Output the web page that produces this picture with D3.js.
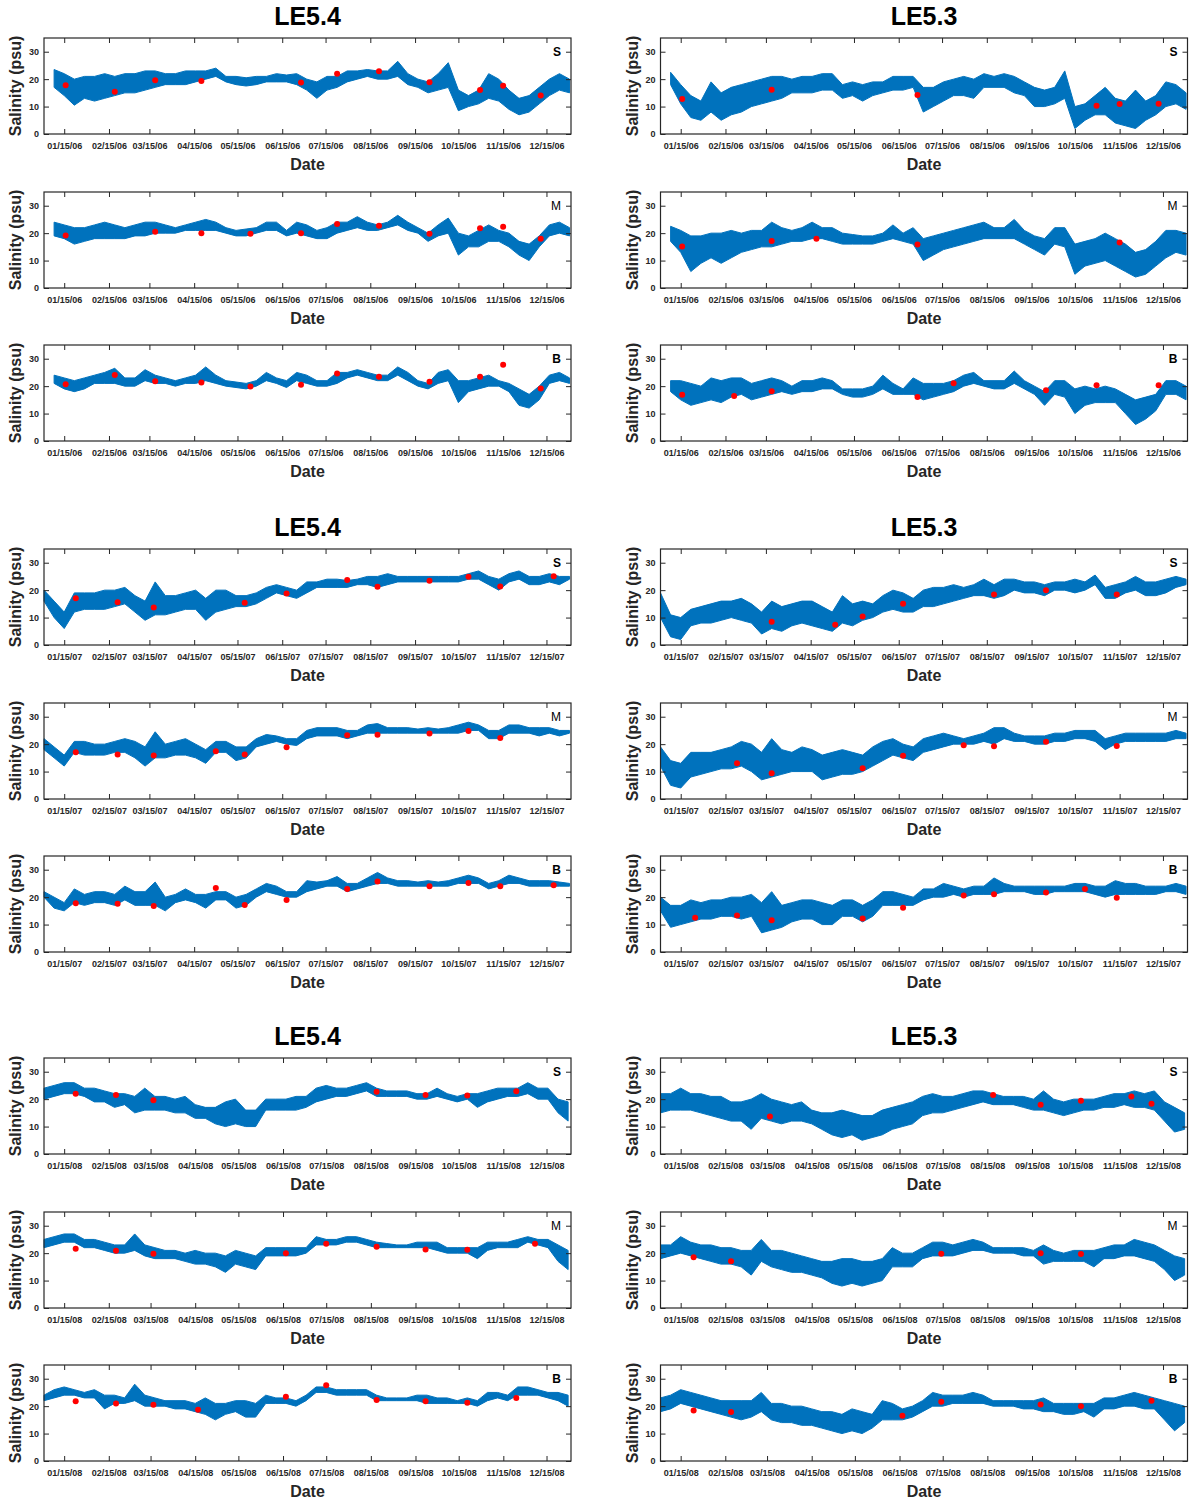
<!DOCTYPE html>
<html>
<head>
<meta charset="utf-8">
<script src="https://cdn.jsdelivr.net/npm/d3@7"></script>
<style>
  body { margin: 0; background: #fff; }
  text { font-family: "Liberation Sans", Arial, Helvetica, sans-serif; }
</style>
</head>
<body>
<script>
// -----------------------------------------------------------------------
// Data: weekly low / high envelope of the continuous salinity record
// (index k = day 7*k of the year), plus discrete grab samples (red dots)
// -----------------------------------------------------------------------

const YEARS = [2006, 2007, 2008];
const STATIONS = ["LE5.4", "LE5.3"];
const DEPTHS = ["S", "M", "B"];
const Y_TICKS = [0, 10, 20, 30];

// ---- 2006, LE5.4
const le54_06_S_lo = [null,17,14,10.5,13,12,13,14,15,15,16,17,18,18,18,19,20,21,19,18,17.5,18,19,19,19,18,16,13,16,17,19,20,21,20,20,21,18,17,15,16,17,8.5,10,11,13,12,9,7,8,11,14,16,15];
const le54_06_S_hi = [null,23.5,22,20,21,21,22,21,22,22,23,23,22,22,23,23,23,24,21,21,20.5,21,21,22,21.5,22,20,19,21,21,23,23,23.5,23,23,26.5,22,20,19,22,26,16,14,16,22,20,16,13,14,17,20,22,20];
const le54_06_M_lo = [null,19,18,16,17,18,18,18,18,19,19,20,20,20,21,21,21,21,20,19,19,20,21,21,19,20,19,18,18,20,21,22,21,21,22,23,21,20,17,19,20,12,15,15,17,17,15,12,10,15,19,20,19];
const le54_06_M_hi = [null,24,23,22,22,23,24,23,22,23,24,24,23,22,23,24,25,24,22,21,21.5,22,24,24,21,24,23,21,22,24,24,26,24,23,24,26.5,24,22,20,23,25.5,20,19,21,23,21,20,17,16,19,23,24,22];
const le54_06_B_lo = [null,21,19,18,19,21,21,21,20,20,22,21,21,20,21,21,22,21,20,19.5,19,20,22,21,19.5,22,21,20,20,21,23,24,23,22,22,24,22,20,19,21,22,14,18,19,20,20,18,13,12,15,21,22,21];
const le54_06_B_hi = [null,24,23,22,23,24,25,26.5,23,23,26,24,23,22,23,24,27,24,22,21.5,21,22,25,23,22,25,24,22,22,25,25,26,25,24,24,27,25,22,21,25,26,22,22,23,24,22,21,19,17,20,24,25,23];
const le54_06_dates = ["2006-01-16","2006-02-19","2006-03-19","2006-04-20","2006-05-24","2006-06-28","2006-07-23","2006-08-21","2006-09-25","2006-10-30","2006-11-15","2006-12-11"];
const le54_06_S_obs = [17.8,15.4,19.6,19.3,null,18.8,22,22.9,18.9,16,17.6,14];
const le54_06_M_obs = [19.1,null,20.5,20,19.8,20,23.3,22.7,19.8,21.8,22.3,18];
const le54_06_B_obs = [20.7,24.1,21.8,21.3,19.9,20.5,24.6,23.4,21.6,23.4,27.8,19.1];

// ---- 2006, LE5.3
const le53_06_S_lo = [null,18,11,6,5,8,5,7,8,10,11,12,13,15,15,15,16,16,13,14,12,14,15,16,16,17,8,10,12,14,14,13,17,17,17,15,14,10,10,11,13,2,5,7,7,4,3,2,5,7,10,11,9];
const le53_06_S_hi = [null,22.5,18,14,12,19,15,17,18,19,20,21,21,20,21,21,22,22,18,19,18,19,19,21,21,21,17,17,19,20,21,20,22,21,22,21,19,17,16,17,23,10,11,14,17,13,12,16,12,14,19,18,15];
const le53_06_M_lo = [null,17,13,6,9,11,9,11,13,14,15,15,16,17,17,18,18,17,16,16,16,16,17,18,17,16,10,12,14,15,16,17,18,18,18,18,16,14,12,16,15,5,8,9,10,8,6,4,5,8,11,13,12];
const le53_06_M_hi = [null,22.5,21,19,19,20,20,21,20,21,21,24,22,21,22,24,22,22,20,19.5,19,19,20,23,20,22,18,19,20,21,22,23,24,22,22,25,21,19,18,22,22,16,17,18,20,18,16,13,14,17,21,21,20];
const le53_06_B_lo = [null,18,15,13,14,15,14,16,17,15,16,17,18,17,18,18,19,19,17,16,16,17,19,17,17,17,15,16,17,18,20,21,20,19,19,21,19,17,13,17,16,10,13,14,14,14,10,6,8,11,17,17,15];
const le53_06_B_hi = [null,22,22,21,20,23,22,23,23,21,22,23,22,20,22,22,23,22,19,19,19,20,24,21,19,23,21,21,21,22,24,25,22,22,22,25.5,22,20,18,22,22,19,20,19,20,19,17,15,16,17,22,22,20];
const le53_06_dates = ["2006-01-16","2006-02-21","2006-03-19","2006-04-19","2006-05-24","2006-06-28","2006-07-23","2006-09-25","2006-10-30","2006-11-15","2006-12-12"];
const le53_06_S_obs = [12.8,null,16.1,null,null,14.2,null,null,10.3,10.9,11];
const le53_06_M_obs = [15.1,null,17.1,18,null,15.9,null,null,null,16.6,null];
const le53_06_B_obs = [16.9,16.4,18.1,null,null,16,21.1,18.5,20.3,null,20.3];

// ---- 2007, LE5.4
const le54_07_S_lo = [16,10,6,12,13,13,13,14,15,12,9,11,11,12,13,13,9,12,13,14,14,15,17,19,18,17,19,21,21,21,21,22,22,21,22,23,23,23,23,23,23,23,24,24,22,20,23,24,22,22,23,22,24];
const le54_07_S_hi = [20,16,12,19,19,19,20,20,21,18,16,23,18,18,19,20,17,20,20,18,18,19,21,22,21,20,23,23,24,24,23.5,24,25,25,26,25,25,25,25,25,25,25,26,27,25,24,26,27,25,25,26,25,25];
const le54_07_M_lo = [18,15,12,17,16,16,16,17,17,15,12,15,15,16,16,15,13,17,17,14,15,19,20,21,20,19.5,22,23,23,23,22,23,24,24,24,24,24,24,24,24,24,24,25,25,22,22,24,24,24,23,24,23,24];
const le54_07_M_hi = [22,19,16,21,21,20,20,21,22,21,19,24.5,20,21,22,20,18,21,21,19,19,22,23.5,23,22,22,25,26,26,26,25,25,27,27.5,26,26,26,25.5,26,25.5,26,27,28,27,25,25,27,27,26,26,26,25,25];
const le54_07_B_lo = [20,16,15,18,17,18,18,17,19,17,17,17,15,18,19,18,16,19,19,16,17,20,22,21,20,20,22,23,24,24,22,23,24,25,25,24,24,24,24,24,24,25,25,25,23,24,25,25,24,24,24,24,24];
const le54_07_B_hi = [22,20,18,23,21,22,22,21,24,22,22,25.5,20,21,23,21,21,22,22,20,21,23,25,24,22,22,26,25.5,26,27.5,25,25,27,29,27,26,26,25.5,26,25.5,26,27,28,27,25,26,28,27,26,26,26,25.5,25];
const le54_07_dates = ["2007-01-23","2007-02-21","2007-03-18","2007-04-30","2007-05-20","2007-06-18","2007-07-30","2007-08-20","2007-09-25","2007-10-22","2007-11-13","2007-12-20"];
const le54_07_S_obs = [17,15.6,13.7,null,15.4,18.8,23.7,21.2,23.4,24.9,21.3,25.1];
const le54_07_M_obs = [17,16.2,15.9,17.4,16.2,18.9,23.2,23.4,23.9,24.8,22.2,null];
const le54_07_B_obs = [17.8,17.6,16.8,23.3,17.1,19,23,25.7,24,25.2,24,24.3];

// ---- 2007, LE5.3
const le53_07_S_lo = [10,3,2,7,8,8,9,10,9,8,4,6,5,7,8,7,6,5,8,7,9,10,12,13,12,12,14,14,15,16,17,18,18,17,18,20,19,19,18,20,20,19,20,22,17,17,19,20,18,18,19,21,22];
const le53_07_S_hi = [19,11,10,13,14,15,16,16,17,15,12,16,14,15,16,16,14,12,18,15,16,15,18,20,19,17,20,21,21,22,21,22,24,22,24,24,23,23,22,23,23,24,23,25.5,21,22,23,25,23,23,24,25,24];
const le53_07_M_lo = [12,5,4,8,9,10,11,11,12,10,7,8,9,10,10,10,7,8,9,9,10,12,14,16,15,14,17,18,19,20,20,20,21,20,22,21,21,20,20,21,21,22,22,21,18,20,21,21,21,21,21,22,22];
const le53_07_M_hi = [19,14,13,17,17,17,18,19,21,20,17,22,18,17,19,18,16,17,18,17,16,19,21,22,20,19,22,23,24,23,22,23,24,26,26,24,23,23,23,24,24,25,25,25,22,23,24,24,24,24,24,25,24];
const le53_07_B_lo = [15,9,10,11,12,12,13,13,12,13,7,8,9,11,12,12,10,10,13,13,11,13,17,17,17,17,19,20,20,21,20,21,21,21,22,22,22,21,21,22,22,22,22,21,20,21,21,21,21,21,22,22,21];
const le53_07_B_hi = [20,17,17,19,18,19,19,20,20,21,18,22,17,18,19,19,18,17,19,19,17,19,22,22,21,20,23,23,25,24,23,24,24,27,25,24,24,24,24,24,24,25,25,24,24,26,25,25,24,24,24,25,24];
const le53_07_dates = ["2007-01-25","2007-02-23","2007-03-19","2007-05-02","2007-05-21","2007-06-18","2007-07-30","2007-08-20","2007-09-25","2007-10-22","2007-11-13"];
const le53_07_S_obs = [null,null,8.5,7.4,10.4,15,null,18.4,20,null,18.4];
const le53_07_M_obs = [null,13,9.4,null,11.2,15.8,19.6,19.2,20.9,null,19.3];
const le53_07_B_obs = [12.5,13.3,11.6,null,12.2,16.1,20.6,21.1,21.7,23,19.8];

// ---- 2008, LE5.4
const le54_08_S_lo = [20,21,22,22,21,19,19,17,18,15,16,16,16,15,15,13,13,11,10,11,10,10,16,16,16,16,17,19,20,21,21,22,23,21,21,21,21,20,20,21,20,19,20,17,19,20,21,21,22,20,20,15,12];
const le54_08_S_hi = [24,25,26,26,24,24,23,22,22,21,24,21,21,20,21,18,17,17,19,20,16,16,20,20,20,21,21,24,25,24,24,25,26,24,23,23,23,22,22,24,22,21,22,22,23,24,24,24,26,24,24,20,19];
const le54_08_M_lo = [22,23,24,24,22,22,21,20,20,21,19,18,18,18,17,16,16,15,13,16,15,14,19,19,19,19,20,23,23,23,24,24,23,22,22,22,22,22,22,21,20,20,20,18,21,22,22,22,24,23,22,17,14];
const le54_08_M_hi = [25,26,27,27,25,25,24,23,23,27,23,22,21,21,20,21,20,20,19,21,20,19,22,22,22,22,22,26,25,25,26,26,25,24,23.5,23,23,24,24,24,22,22,22,22,24,24,24,25,26,25,25,23,21];
const le54_08_B_lo = [22,23,24,24,23,23,19,21,21,22,20,20,20,19,19,18,17,15,17,18,16,16,21,21,21,20,22,25,25,24,24,24,24,22,22,22,22,22,21,21,21,21,21,20,22,23,22,24,24,24,23,22,20];
const le54_08_B_hi = [24,26,27,26,25,26,24,24,23,28,24,23,22,22,22,21,23,21,21,22,22,21,24,23,23,22,24,27,27,26,26,26,26,24,23,23,23,24,24,23,23,22,23,22,25,25,24,27,27,26,25,25,24];
const le54_08_dates = ["2008-01-23","2008-02-20","2008-03-17","2008-04-17","2008-06-17","2008-07-15","2008-08-19","2008-09-22","2008-10-21","2008-11-24","2008-12-07"];
const le54_08_S_obs = [22,21.5,19.6,null,null,null,22.7,21.5,21.3,22.9,null];
const le54_08_M_obs = [21.6,20.9,19.8,null,20,23.4,22.3,21.3,21.2,null,23.4];
const le54_08_B_obs = [21.8,21,20.5,18.7,23.4,27.6,22.2,21.8,21.2,23,null];

// ---- 2008, LE5.3
const le53_08_S_lo = [15,16,16,16,15,14,13,12,12,9,13,12,11,12,12,11,9,7,6,7,5,6,7,9,10,11,14,15,15,16,17,18,19,18,18,18,17,16,16,15,14,15,16,16,17,17,18,17,17,16,12,8,9];
const le53_08_S_hi = [22,22,24,22,22,21,21,19,19,20,22,20,19,18,19,16,15,15,16,15,14,14,16,17,18,19,21,22,21,21,22,23,23,22,21,21,21,20,23,20,19,20,20,20,21,22,22,23,22,23,19,17,15];
const le53_08_M_lo = [18,19,20,19,18,17,16,16,15,12,17,15,14,13,13,12,11,9,8,9,8,9,10,15,15,15,18,19,19,19,20,21,21,20,20,20,19,19,16,17,17,17,17,15,18,18,19,19,18,17,14,10,12];
const le53_08_M_hi = [23,23,26,24,23,23,22,22,21,21,25,21,21,20,19,18,17,17,18,18,17,17,18,22,20,20,22,24,24,23,24,25,24,22,22,22,22,21,23,21,20,21,21,21,22,23,23,25,24,23,21,19,18];
const le53_08_B_lo = [18,19,21,20,19,18,17,16,15,16,18,15,14,14,13,13,12,11,10,11,10,12,15,15,15,16,18,20,20,21,21,21,21,20,20,20,19,19,18,18,17,17,18,16,19,19,20,20,19,19,15,11,14];
const le53_08_B_hi = [23,24,26,25,24,23,22,22,22,22,25,21,21,20,20,19,18,18,17,19,18,17,22,21,19,20,22,25,24,24,24,25,24,22,22,22,22,22,23,21,21,21,21,21,23,23,24,25,24,23,22,21,20];
const le53_08_dates = ["2008-01-24","2008-02-19","2008-03-17","2008-06-17","2008-07-14","2008-08-19","2008-09-21","2008-10-19","2008-11-23","2008-12-07"];
const le53_08_S_obs = [null,null,13.7,null,null,21.5,18,19.4,21,18.3];
const le53_08_M_obs = [18.5,17,null,null,19.8,null,20,19.7,null,null];
const le53_08_B_obs = [18.4,17.9,null,16.5,21.6,null,20.6,20,null,22];

// lookup tables built from the arrays above
const series = {
  "2006|LE5.4|S": [le54_06_S_lo, le54_06_S_hi, le54_06_S_obs],
  "2006|LE5.4|M": [le54_06_M_lo, le54_06_M_hi, le54_06_M_obs],
  "2006|LE5.4|B": [le54_06_B_lo, le54_06_B_hi, le54_06_B_obs],
  "2006|LE5.3|S": [le53_06_S_lo, le53_06_S_hi, le53_06_S_obs],
  "2006|LE5.3|M": [le53_06_M_lo, le53_06_M_hi, le53_06_M_obs],
  "2006|LE5.3|B": [le53_06_B_lo, le53_06_B_hi, le53_06_B_obs],
  "2007|LE5.4|S": [le54_07_S_lo, le54_07_S_hi, le54_07_S_obs],
  "2007|LE5.4|M": [le54_07_M_lo, le54_07_M_hi, le54_07_M_obs],
  "2007|LE5.4|B": [le54_07_B_lo, le54_07_B_hi, le54_07_B_obs],
  "2007|LE5.3|S": [le53_07_S_lo, le53_07_S_hi, le53_07_S_obs],
  "2007|LE5.3|M": [le53_07_M_lo, le53_07_M_hi, le53_07_M_obs],
  "2007|LE5.3|B": [le53_07_B_lo, le53_07_B_hi, le53_07_B_obs],
  "2008|LE5.4|S": [le54_08_S_lo, le54_08_S_hi, le54_08_S_obs],
  "2008|LE5.4|M": [le54_08_M_lo, le54_08_M_hi, le54_08_M_obs],
  "2008|LE5.4|B": [le54_08_B_lo, le54_08_B_hi, le54_08_B_obs],
  "2008|LE5.3|S": [le53_08_S_lo, le53_08_S_hi, le53_08_S_obs],
  "2008|LE5.3|M": [le53_08_M_lo, le53_08_M_hi, le53_08_M_obs],
  "2008|LE5.3|B": [le53_08_B_lo, le53_08_B_hi, le53_08_B_obs],
};
const sampleDates = {
  "2006|LE5.4": le54_06_dates, "2006|LE5.3": le53_06_dates,
  "2007|LE5.4": le54_07_dates, "2007|LE5.3": le53_07_dates,
  "2008|LE5.4": le54_08_dates, "2008|LE5.3": le53_08_dates,
};

// -----------------------------------------------------------------------
// Layout
// -----------------------------------------------------------------------

const WIDTH = 1193;
const HEIGHT = 1500;
const COL_X = [44, 660.5];
const PLOT_W = 527;
const PLOT_H = 96;
const GROUP_Y = [0, 511, 1020];
const ROW_TOP = [38, 192, 345];
const TICK_LEN = 5;

const AXIS_COLOR = "#262626";
const LINE_COLOR = "#0072BD";
const DOT_COLOR = "#FF0000";

const parseDate = d3.timeParse("%Y-%m-%d");
const fmtTick = d3.timeFormat("%m/%d/%y");

const svg = d3.select("body")
  .append("svg")
  .attr("width", WIDTH)
  .attr("height", HEIGHT);

function styleAxis(g) {
  g.select(".domain").remove();
  g.selectAll(".tick line").attr("stroke", AXIS_COLOR);
  g.selectAll(".tick text")
    .attr("fill", AXIS_COLOR)
    .attr("font-size", 9)
    .attr("font-weight", "bold")
    .attr("font-family", "'Liberation Sans', Arial, sans-serif");
}

// -----------------------------------------------------------------------
// Drawing
// -----------------------------------------------------------------------

YEARS.forEach((year, gi) => {
  STATIONS.forEach((station, ci) => {
    const x0 = COL_X[ci];
    const start = new Date(year, 0, 1);

    const xScale = d3.scaleTime()
      .domain([start, new Date(year + 1, 0, 1)])
      .range([x0, x0 + PLOT_W]);

    const xTicks = d3.timeMonth.range(start, new Date(year + 1, 0, 1))
      .map(d => d3.timeDay.offset(d, 14));

    // station title
    svg.append("text")
      .attr("x", x0 + PLOT_W / 2)
      .attr("y", GROUP_Y[gi] + 25)
      .attr("text-anchor", "middle")
      .attr("font-size", 25)
      .attr("font-weight", "bold")
      .attr("fill", "#000")
      .text(station);

    const dates = sampleDates[year + "|" + station].map(parseDate);

    DEPTHS.forEach((depth, ri) => {
      const top = GROUP_Y[gi] + ROW_TOP[ri];
      const bottom = top + PLOT_H;
      const [lo, hi, obs] = series[year + "|" + station + "|" + depth];

      const yScale = d3.scaleLinear().domain([0, 35]).range([bottom, top]);

      const weekly = lo.map((v, k) => ({
        date: d3.timeDay.offset(start, 7 * k),
        lo: v,
        hi: hi[k]
      }));

      const panel = svg.append("g").attr("class", "panel");

      // continuous record as a filled envelope
      const area = d3.area()
        .defined(d => d.lo != null && d.hi != null)
        .x(d => xScale(d.date))
        .y0(d => yScale(d.lo))
        .y1(d => yScale(d.hi));

      panel.append("path")
        .datum(weekly)
        .attr("d", area)
        .attr("fill", LINE_COLOR)
        .attr("stroke", LINE_COLOR)
        .attr("stroke-width", 1)
        .attr("stroke-linejoin", "round");

      // grab samples
      const samples = dates.map((d, i) => ({ date: d, value: obs[i] }))
        .filter(d => d.value != null);

      panel.append("g")
        .selectAll("circle")
        .data(samples)
        .join("circle")
        .attr("cx", d => xScale(d.date))
        .attr("cy", d => yScale(d.value))
        .attr("r", 3)
        .attr("fill", DOT_COLOR);

      // axes, ticks pointing inwards on all four sides
      panel.append("g")
        .attr("transform", `translate(0, ${bottom})`)
        .call(d3.axisBottom(xScale).tickValues(xTicks).tickFormat(fmtTick)
          .tickSizeInner(-TICK_LEN).tickSizeOuter(0).tickPadding(9))
        .call(styleAxis);

      panel.append("g")
        .attr("transform", `translate(0, ${top})`)
        .call(d3.axisTop(xScale).tickValues(xTicks).tickFormat("")
          .tickSizeInner(-TICK_LEN).tickSizeOuter(0))
        .call(styleAxis);

      panel.append("g")
        .attr("transform", `translate(${x0}, 0)`)
        .call(d3.axisLeft(yScale).tickValues(Y_TICKS)
          .tickSizeInner(-TICK_LEN).tickSizeOuter(0).tickPadding(5))
        .call(styleAxis);

      panel.append("g")
        .attr("transform", `translate(${x0 + PLOT_W}, 0)`)
        .call(d3.axisRight(yScale).tickValues(Y_TICKS).tickFormat("")
          .tickSizeInner(-TICK_LEN).tickSizeOuter(0))
        .call(styleAxis);

      // frame
      panel.append("rect")
        .attr("x", x0)
        .attr("y", top)
        .attr("width", PLOT_W)
        .attr("height", PLOT_H)
        .attr("fill", "none")
        .attr("stroke", AXIS_COLOR)
        .attr("stroke-width", 1.2);

      // depth letter
      panel.append("text")
        .attr("x", x0 + PLOT_W - 10)
        .attr("y", yScale(30) + 4)
        .attr("text-anchor", "end")
        .attr("font-size", 12)
        .attr("font-weight", depth === "M" ? "normal" : "bold")
        .attr("fill", "#000")
        .text(depth);

      // axis titles
      panel.append("text")
        .attr("transform", "rotate(-90)")
        .attr("x", -(top + PLOT_H / 2))
        .attr("y", x0 - 23)
        .attr("text-anchor", "middle")
        .attr("font-size", 16)
        .attr("font-weight", "bold")
        .attr("fill", AXIS_COLOR)
        .text("Salinity (psu)");

      panel.append("text")
        .attr("x", x0 + PLOT_W / 2)
        .attr("y", bottom + 36)
        .attr("text-anchor", "middle")
        .attr("font-size", 16)
        .attr("font-weight", "bold")
        .attr("fill", AXIS_COLOR)
        .text("Date");
    });
  });
});
</script>
</body>
</html>
